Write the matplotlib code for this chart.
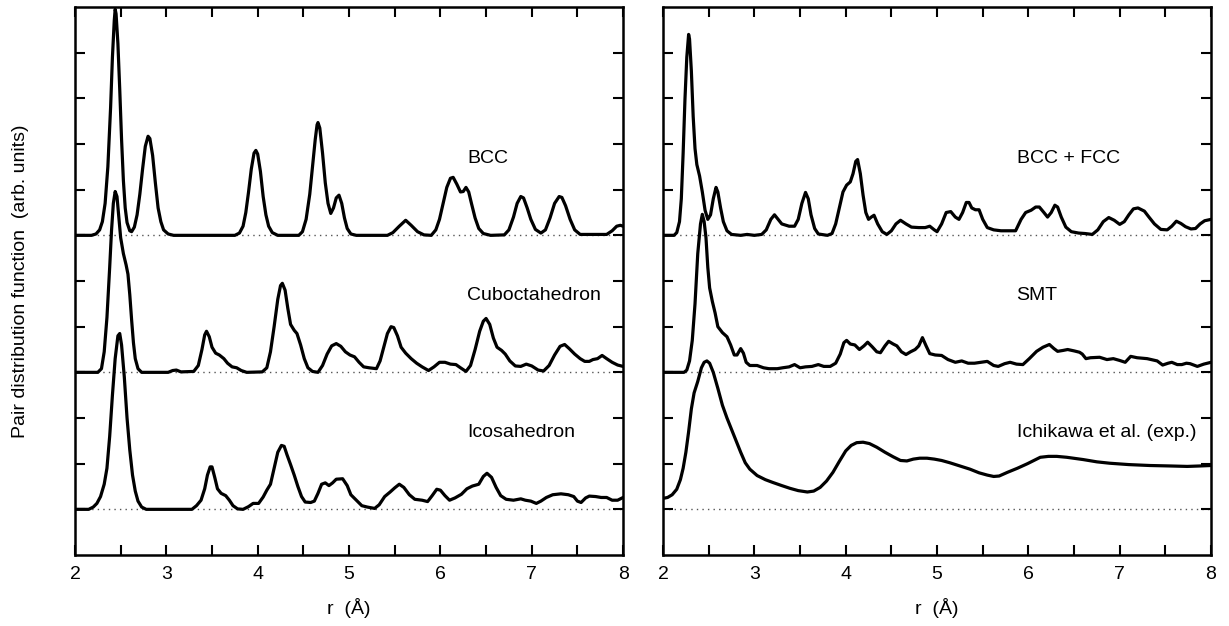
import numpy as np
import matplotlib.pyplot as plt

plt.rcParams['font.family'] = ['Liberation Sans', 'DejaVu Sans']

# --- left panel curves (r in Angstrom, g above its baseline) ---
bcc_r = [2.00, 2.18, 2.23, 2.27, 2.30, 2.33, 2.36, 2.39, 2.41, 2.43, 2.44, 2.45, 2.47, 2.49, 2.51,
         2.53, 2.55, 2.57, 2.60, 2.62, 2.65, 2.68, 2.71, 2.74, 2.77, 2.80, 2.82, 2.85, 2.88, 2.91,
         2.94, 2.97, 3.02, 3.08, 3.75, 3.80, 3.84, 3.87, 3.90, 3.93, 3.96, 3.98, 4.00, 4.03, 4.06,
         4.09, 4.12, 4.16, 4.22, 4.45, 4.49, 4.53, 4.57, 4.60, 4.63, 4.65, 4.66, 4.68, 4.71, 4.74,
         4.77, 4.80, 4.83, 4.86, 4.89, 4.92, 4.95, 4.98, 5.02, 5.08, 5.42, 5.48, 5.55, 5.62, 5.68,
         5.75, 5.82, 5.90, 5.95, 5.99, 6.03, 6.07, 6.11, 6.14, 6.18, 6.22, 6.25, 6.28, 6.31, 6.34,
         6.38, 6.42, 6.47, 6.55, 6.70, 6.75, 6.80, 6.84, 6.88, 6.91, 6.95, 6.99, 7.04, 7.10, 7.15,
         7.20, 7.25, 7.30, 7.33, 7.37, 7.42, 7.47, 7.53, 7.82, 7.88, 7.93, 7.97, 8.00]
bcc_g = [0.0, 0.0, 0.03, 0.12, 0.3, 0.7, 1.5, 2.8, 3.9, 4.7, 4.95, 4.85, 4.2, 3.2, 2.1,
         1.2, 0.6, 0.28, 0.1, 0.08, 0.18, 0.45, 0.9, 1.45, 1.95, 2.17, 2.12, 1.75, 1.15, 0.6,
         0.3, 0.12, 0.03, 0.0, 0.0, 0.05, 0.2, 0.5, 0.95, 1.45, 1.8, 1.86, 1.78, 1.4, 0.85,
         0.45, 0.2, 0.06, 0.0, 0.0, 0.08, 0.35, 0.9, 1.5, 2.1, 2.42, 2.47, 2.35, 1.8, 1.15,
         0.7, 0.48, 0.6, 0.82, 0.88, 0.7, 0.38, 0.15, 0.03, 0.0, 0.0, 0.06, 0.2, 0.33, 0.22,
         0.08, 0.01, 0.0, 0.12, 0.35, 0.7, 1.05, 1.25, 1.27, 1.12, 0.95, 0.96, 1.05, 0.95, 0.7,
         0.38, 0.15, 0.04, 0.0, 0.01, 0.12, 0.4, 0.7, 0.85, 0.82, 0.6, 0.35, 0.13, 0.05, 0.12,
         0.38, 0.7, 0.85, 0.83, 0.65, 0.35, 0.12, 0.02, 0.02, 0.1, 0.2, 0.22, 0.2]

cubo_r = [2.00, 2.25, 2.29, 2.32, 2.35, 2.38, 2.40, 2.42, 2.44, 2.46, 2.48, 2.50, 2.53, 2.56, 2.58,
          2.60, 2.62, 2.64, 2.66, 2.69, 2.73, 3.02, 3.07, 3.11, 3.16, 3.30, 3.35, 3.39, 3.42, 3.44,
          3.47, 3.50, 3.54, 3.58, 3.63, 3.67, 3.72, 3.77, 3.82, 3.88, 4.05, 4.10, 4.14, 4.18, 4.22,
          4.25, 4.27, 4.30, 4.33, 4.36, 4.40, 4.43, 4.47, 4.51, 4.55, 4.60, 4.66, 4.71, 4.76, 4.81,
          4.86, 4.91, 4.96, 5.01, 5.06, 5.11, 5.16, 5.22, 5.30, 5.34, 5.38, 5.42, 5.46, 5.49, 5.53,
          5.57, 5.62, 5.68, 5.74, 5.80, 5.87, 5.93, 5.99, 6.05, 6.11, 6.17, 6.22, 6.28, 6.33, 6.38,
          6.43, 6.47, 6.50, 6.54, 6.58, 6.62, 6.67, 6.71, 6.76, 6.82, 6.88, 6.94, 7.00, 7.07, 7.13,
          7.19, 7.25, 7.31, 7.36, 7.41, 7.47, 7.53, 7.58, 7.63, 7.67, 7.72, 7.77, 7.82, 7.88, 7.94,
          8.00]
cubo_g = [0.0, 0.0, 0.08, 0.45, 1.2, 2.3, 3.1, 3.7, 3.96, 3.85, 3.4, 2.95, 2.6, 2.35, 2.15,
          1.7, 1.15, 0.65, 0.3, 0.08, 0.0, 0.0, 0.04, 0.05, 0.01, 0.02, 0.15, 0.5, 0.82, 0.9,
          0.78, 0.55, 0.42, 0.38, 0.3, 0.2, 0.12, 0.1, 0.04, 0.0, 0.01, 0.1, 0.45, 1.0, 1.6,
          1.9, 1.95, 1.8, 1.4, 1.05, 0.92, 0.85, 0.6, 0.3, 0.1, 0.02, 0.0, 0.15, 0.4, 0.58,
          0.63, 0.57, 0.45, 0.38, 0.34, 0.22, 0.12, 0.1, 0.08, 0.25, 0.55, 0.85, 1.0, 0.98, 0.8,
          0.55, 0.42, 0.3, 0.2, 0.12, 0.04, 0.12, 0.22, 0.22, 0.18, 0.17, 0.1, 0.02, 0.15, 0.5,
          0.9, 1.12, 1.18, 1.05, 0.75, 0.55, 0.48, 0.4, 0.25, 0.14, 0.13, 0.18, 0.14, 0.05, 0.03,
          0.15, 0.38, 0.57, 0.61, 0.52, 0.4, 0.3, 0.24, 0.24, 0.28, 0.3, 0.37, 0.3, 0.22, 0.16,
          0.13]

ico_r = [2.00, 2.15, 2.20, 2.24, 2.28, 2.32, 2.35, 2.38, 2.41, 2.44, 2.47, 2.49, 2.51, 2.54, 2.57,
         2.60, 2.63, 2.66, 2.69, 2.73, 2.78, 3.28, 3.33, 3.38, 3.42, 3.45, 3.48, 3.50, 3.53, 3.56,
         3.60, 3.65, 3.69, 3.73, 3.78, 3.84, 3.90, 3.95, 4.01, 4.06, 4.10, 4.14, 4.18, 4.22, 4.26,
         4.29, 4.32, 4.36, 4.40, 4.44, 4.48, 4.52, 4.58, 4.62, 4.66, 4.70, 4.74, 4.78, 4.82, 4.86,
         4.93, 4.98, 5.02, 5.08, 5.14, 5.20, 5.28, 5.33, 5.39, 5.45, 5.50, 5.55, 5.60, 5.66, 5.72,
         5.80, 5.86, 5.91, 5.96, 6.00, 6.05, 6.10, 6.16, 6.23, 6.29, 6.35, 6.42, 6.47, 6.51, 6.56,
         6.61, 6.66, 6.72, 6.80, 6.88, 6.93, 6.99, 7.05, 7.10, 7.16, 7.23, 7.32, 7.40, 7.46, 7.50,
         7.54, 7.59, 7.63, 7.70, 7.76, 7.82, 7.88, 7.94, 8.00]
ico_g = [0.0, 0.0, 0.05, 0.13, 0.28, 0.55, 0.9, 1.6, 2.5, 3.3, 3.8, 3.85, 3.6, 2.9, 2.0,
         1.3, 0.75, 0.4, 0.18, 0.05, 0.0, 0.0, 0.08, 0.2, 0.45, 0.75, 0.93, 0.93, 0.7, 0.45,
         0.35, 0.3, 0.2, 0.08, 0.01, 0.0, 0.06, 0.13, 0.13, 0.27, 0.42, 0.55, 0.9, 1.25, 1.4,
         1.38, 1.2, 0.98, 0.75, 0.5, 0.28, 0.16, 0.15, 0.18, 0.35, 0.55, 0.58, 0.52, 0.58, 0.66,
         0.67, 0.52, 0.32, 0.2, 0.08, 0.05, 0.02, 0.1, 0.28, 0.38, 0.47, 0.55, 0.48, 0.32, 0.22,
         0.2, 0.17, 0.3, 0.44, 0.42, 0.3, 0.2, 0.25, 0.33, 0.45, 0.51, 0.55, 0.72, 0.79, 0.7,
         0.48, 0.3, 0.22, 0.2, 0.23, 0.2, 0.18, 0.13, 0.18, 0.26, 0.32, 0.34, 0.32, 0.28, 0.18,
         0.15, 0.25, 0.29, 0.28, 0.26, 0.26, 0.2, 0.2, 0.26]

# --- right panel curves ---
mix_r = [2.00, 2.12, 2.15, 2.18, 2.20, 2.22, 2.24, 2.26, 2.28, 2.29, 2.31, 2.33, 2.35, 2.37, 2.40,
         2.43, 2.46, 2.49, 2.52, 2.55, 2.58, 2.60, 2.63, 2.66, 2.70, 2.75, 2.85, 2.92, 3.00, 3.08,
         3.13, 3.18, 3.22, 3.26, 3.30, 3.38, 3.44, 3.48, 3.52, 3.56, 3.59, 3.62, 3.66, 3.70, 3.80,
         3.85, 3.89, 3.93, 3.97, 4.01, 4.05, 4.08, 4.11, 4.13, 4.16, 4.19, 4.22, 4.25, 4.28, 4.31,
         4.35, 4.40, 4.45, 4.50, 4.55, 4.60, 4.66, 4.72, 4.80, 4.87, 4.92, 4.97, 5.00, 5.05, 5.10,
         5.15, 5.20, 5.24, 5.28, 5.32, 5.35, 5.38, 5.42, 5.46, 5.50, 5.55, 5.62, 5.70, 5.80, 5.86,
         5.92, 5.97, 6.03, 6.08, 6.12, 6.17, 6.21, 6.25, 6.29, 6.32, 6.36, 6.41, 6.47, 6.55, 6.62,
         6.70, 6.76, 6.82, 6.88, 6.94, 7.00, 7.05, 7.10, 7.15, 7.20, 7.27, 7.32, 7.38, 7.45, 7.52,
         7.57, 7.62, 7.67, 7.72, 7.78, 7.83, 7.88, 7.93, 8.00]
mix_g = [0.0, 0.0, 0.06, 0.3, 0.8, 1.8, 2.98, 3.9, 4.4, 4.3, 3.6, 2.6, 1.9, 1.55, 1.3,
         0.95, 0.55, 0.35, 0.45, 0.8, 1.05, 0.95, 0.6, 0.3, 0.1, 0.02, 0.0, 0.02, 0.0, 0.02,
         0.12, 0.35, 0.45, 0.35, 0.25, 0.2, 0.2, 0.35, 0.7, 0.94, 0.8, 0.45, 0.15, 0.03, 0.0,
         0.04, 0.25, 0.6, 0.95, 1.1, 1.17, 1.35, 1.62, 1.66, 1.35, 0.88, 0.5, 0.35, 0.4, 0.44,
         0.25, 0.08, 0.02, 0.1, 0.25, 0.33, 0.25, 0.18, 0.17, 0.17, 0.2, 0.12, 0.08, 0.25, 0.5,
         0.52, 0.4, 0.35, 0.5, 0.72, 0.72, 0.6, 0.56, 0.56, 0.35, 0.17, 0.12, 0.1, 0.1, 0.1,
         0.35, 0.5, 0.55, 0.62, 0.62, 0.5, 0.4, 0.5, 0.66, 0.62, 0.4, 0.18, 0.08, 0.05, 0.04,
         0.02, 0.12, 0.3, 0.39, 0.33, 0.24, 0.3, 0.45, 0.58, 0.6, 0.53, 0.4, 0.25, 0.13, 0.12,
         0.2, 0.31, 0.26, 0.19, 0.14, 0.15, 0.25, 0.32, 0.35]

smt_r = [2.00, 2.23, 2.26, 2.29, 2.32, 2.35, 2.38, 2.41, 2.43, 2.45, 2.47, 2.49, 2.51, 2.54, 2.57,
         2.60, 2.65, 2.70, 2.74, 2.78, 2.81, 2.85, 2.88, 2.91, 2.95, 3.03, 3.10, 3.16, 3.25, 3.31,
         3.38, 3.44, 3.50, 3.56, 3.63, 3.70, 3.76, 3.83, 3.89, 3.94, 3.98, 4.01, 4.05, 4.10, 4.15,
         4.20, 4.24, 4.29, 4.34, 4.38, 4.43, 4.47, 4.52, 4.56, 4.61, 4.66, 4.71, 4.76, 4.80, 4.84,
         4.88, 4.92, 4.98, 5.05, 5.12, 5.20, 5.27, 5.34, 5.41, 5.48, 5.55, 5.62, 5.67, 5.74, 5.80,
         5.87, 5.94, 6.01, 6.09, 6.16, 6.23, 6.28, 6.32, 6.38, 6.43, 6.50, 6.56, 6.59, 6.63, 6.68,
         6.78, 6.86, 6.93, 7.00, 7.06, 7.12, 7.19, 7.30, 7.41, 7.47, 7.53, 7.57, 7.63, 7.68, 7.73,
         7.77, 7.85, 7.92, 8.00]
smt_g = [0.0, 0.0, 0.05, 0.25, 0.7, 1.5, 2.6, 3.25, 3.46, 3.3, 2.95, 2.3, 1.85, 1.55, 1.3,
         1.0, 0.87, 0.78, 0.6, 0.38, 0.38, 0.52, 0.42, 0.22, 0.15, 0.15, 0.1, 0.08, 0.08, 0.1,
         0.12, 0.17, 0.1, 0.12, 0.13, 0.17, 0.13, 0.13, 0.2, 0.4, 0.65, 0.7, 0.62, 0.6, 0.5,
         0.58, 0.66, 0.56, 0.45, 0.43, 0.58, 0.68, 0.62, 0.58, 0.45, 0.39, 0.45, 0.5, 0.58, 0.76,
         0.58, 0.41, 0.38, 0.37, 0.28, 0.22, 0.25, 0.2, 0.2, 0.22, 0.24, 0.15, 0.13, 0.19, 0.22,
         0.18, 0.17, 0.3, 0.46, 0.55, 0.61, 0.52, 0.46, 0.48, 0.5, 0.47, 0.44, 0.4, 0.3, 0.32,
         0.33, 0.28, 0.3, 0.26, 0.22, 0.35, 0.32, 0.3, 0.25, 0.16, 0.2, 0.22, 0.17, 0.17, 0.2,
         0.19, 0.13, 0.18, 0.22]

exp_r = [2.00, 2.05, 2.10, 2.15, 2.19, 2.22, 2.25, 2.28, 2.31, 2.34, 2.38, 2.42, 2.45, 2.48, 2.51,
         2.55, 2.60, 2.65, 2.70, 2.75, 2.80, 2.85, 2.90, 2.95, 3.03, 3.12, 3.20, 3.30, 3.39, 3.48,
         3.58, 3.65, 3.72, 3.79, 3.86, 3.93, 4.00, 4.06, 4.12, 4.19, 4.26, 4.34, 4.43, 4.52, 4.60,
         4.67, 4.74, 4.81, 4.89, 4.97, 5.05, 5.14, 5.25, 5.36, 5.46, 5.55, 5.62, 5.68, 5.77, 5.88,
         5.99, 6.07, 6.13, 6.22, 6.31, 6.42, 6.60, 6.75, 6.89, 7.10, 7.33, 7.55, 7.74, 7.88, 8.00]
exp_g = [0.24, 0.26, 0.32, 0.44, 0.65, 0.9, 1.25, 1.7, 2.2, 2.55, 2.8, 3.1, 3.22, 3.25, 3.2,
         3.0, 2.65, 2.28, 2.0, 1.75, 1.5, 1.25, 1.02, 0.88, 0.74, 0.65, 0.59, 0.52, 0.46, 0.41,
         0.38, 0.4, 0.48, 0.62, 0.81, 1.05, 1.28, 1.4, 1.46, 1.47, 1.44, 1.36, 1.25, 1.15, 1.07,
         1.06, 1.1, 1.12, 1.12, 1.1, 1.07, 1.02, 0.95, 0.88, 0.8, 0.75, 0.72, 0.73, 0.81, 0.9,
         1.0, 1.08, 1.14, 1.16, 1.16, 1.14, 1.09, 1.04, 1.01, 0.98, 0.96, 0.95, 0.94, 0.95, 0.96]

baselines = [7, 4, 1]
left_names = ['BCC', 'Cuboctahedron', 'Icosahedron']
right_names = ['BCC + FCC', 'SMT', 'Ichikawa et al. (exp.)']

fig = plt.figure(figsize=(12.29, 6.26), dpi=100)
ax1 = fig.add_axes([0.061, 0.1134, 0.446, 0.8754])
ax2 = fig.add_axes([0.5395, 0.1134, 0.4459, 0.8754])

left = [(bcc_r, bcc_g), (cubo_r, cubo_g), (ico_r, ico_g)]
right = [(mix_r, mix_g), (smt_r, smt_g), (exp_r, exp_g)]

for ax, curves, names, lx in [(ax1, left, left_names, 6.29), (ax2, right, right_names, 5.87)]:
    for (r, g), b, name in zip(curves, baselines, names):
        ax.axhline(b, color='#555555', lw=1, ls=(0, (1, 3)), zorder=1)
        ax.plot(r, np.array(g) + b, color='black', lw=2.3, solid_joinstyle='round', zorder=2)
        ax.text(lx, b + 1.68, name, fontsize=14, va='center', ha='left')
    ax.set_xlim(2, 8)
    ax.set_ylim(0, 12)
    ax.set_xticks(np.arange(2, 8.01, 0.5))
    ax.set_xticklabels([str(int(v)) if v == int(v) else '' for v in np.arange(2, 8.01, 0.5)])
    ax.set_yticks(range(1, 12))
    ax.set_yticklabels([])
    ax.tick_params(direction='in', length=7, width=1.5, top=True, right=True,
                   labelsize=14, pad=8)
    for s in ax.spines.values():
        s.set_linewidth(1.8)
    ax.set_xlabel('r  (Å)', fontsize=14, labelpad=11)

ax1.set_ylabel('Pair distribution function  (arb. units)', fontsize=14, labelpad=25)

fig.savefig('out.png', dpi=100)
